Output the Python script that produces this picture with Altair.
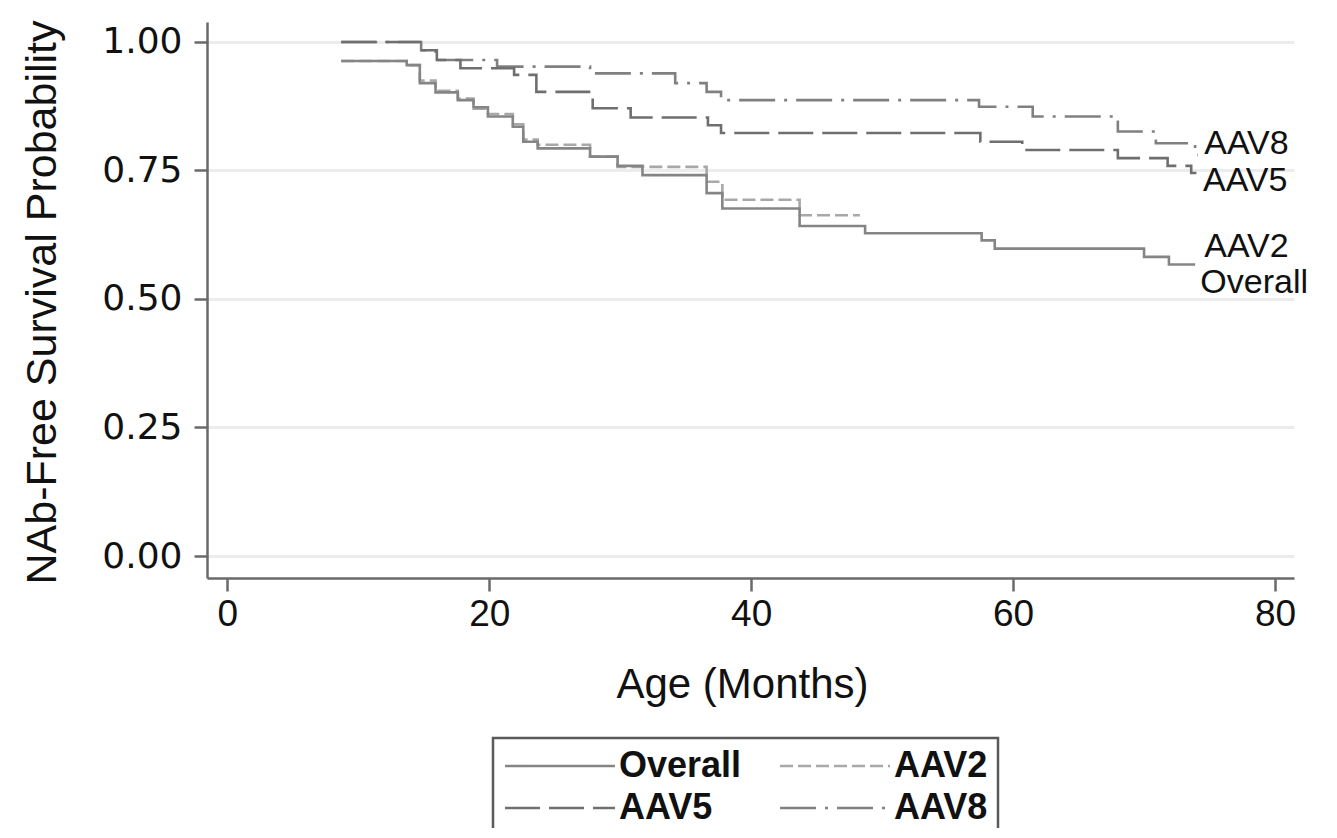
import altair as alt
import pandas as pd

groups = ["Overall", "AAV2", "AAV5", "AAV8"]
# legend fills column by column: this order gives rows "Overall AAV2" / "AAV5 AAV8"
legend_order = ["Overall", "AAV5", "AAV2", "AAV8"]

overall_age = [8.7, 13.7, 14.7, 15.9, 17.6, 18.8, 19.9, 21.8, 22.6, 23.7, 27.7, 29.8, 31.7,
               36.6, 37.8, 43.7, 48.7, 57.6, 58.6, 70.0, 71.9, 73.9]
overall_surv = [0.963, 0.955, 0.920, 0.902, 0.887, 0.873, 0.855, 0.835, 0.806, 0.793, 0.777,
                0.759, 0.741, 0.706, 0.676, 0.642, 0.628, 0.614, 0.598, 0.582, 0.567, 0.567]

aav2_age = [8.7, 13.7, 14.7, 15.9, 17.6, 18.8, 19.9, 21.8, 22.6, 23.7, 27.7, 29.8, 36.6,
            37.8, 43.7, 48.3]
aav2_surv = [0.963, 0.955, 0.925, 0.905, 0.890, 0.870, 0.860, 0.840, 0.810, 0.800, 0.777,
             0.757, 0.728, 0.693, 0.663, 0.663]

aav5_age = [8.7, 14.7, 16.0, 17.8, 21.9, 23.6, 27.9, 30.8, 36.7, 37.7, 57.5, 60.7, 68.0,
            71.8, 73.6, 74.0]
aav5_surv = [1.000, 0.984, 0.965, 0.949, 0.936, 0.903, 0.871, 0.853, 0.838, 0.823, 0.806,
             0.790, 0.774, 0.759, 0.745, 0.745]

aav8_age = [8.7, 14.8, 15.9, 20.6, 27.7, 34.2, 36.6, 37.7, 57.4, 61.5, 68.0, 70.9, 73.9, 74.1]
aav8_surv = [1.000, 0.984, 0.965, 0.952, 0.939, 0.920, 0.903, 0.887, 0.874, 0.855, 0.826,
             0.803, 0.780, 0.780]

label_text = ["AAV8", "AAV5", "AAV2", "Overall"]
label_age = [74.6, 74.5, 74.6, 74.3]
label_surv = [0.802, 0.730, 0.601, 0.531]

x_ticks = [0, 20, 40, 60, 80]
y_ticks = [0.0, 0.25, 0.5, 0.75, 1.0]

rows = []
for g, ages, survs in [("Overall", overall_age, overall_surv), ("AAV2", aav2_age, aav2_surv),
                       ("AAV5", aav5_age, aav5_surv), ("AAV8", aav8_age, aav8_surv)]:
    for a, s in zip(ages, survs):
        rows.append({"group": g, "age": a, "surv": s})
df = pd.DataFrame(rows)
label_df = pd.DataFrame({"label": label_text, "age": label_age, "surv": label_surv})

AXIS_GRAY = "#6a6a6a"

x_scale = alt.Scale(domain=[-1.55, 81.45], nice=False, zero=False)
y_scale = alt.Scale(domain=[-0.0428, 1.0389], nice=False, zero=False)

x_axis = alt.Axis(values=x_ticks, title="Age (Months)", grid=False,
                  domainColor=AXIS_GRAY, domainWidth=2.5, tickColor=AXIS_GRAY, tickWidth=2.5,
                  tickSize=13, labelFont="Liberation Sans", labelFontSize=37, labelColor="#111",
                  labelPadding=5, labelFlush=False, labelOverlap=False,
                  titleFont="Liberation Sans", titleFontSize=42, titleFontWeight="normal",
                  titleColor="#111", titleX=535, titleY=119, titleBaseline="alphabetic",
                  titleAlign="center")
y_axis = alt.Axis(values=y_ticks, format=".2f", title="NAb-Free Survival Probability",
                  grid=True, gridColor="#ececec", gridWidth=3,
                  domainColor=AXIS_GRAY, domainWidth=2.5, tickColor=AXIS_GRAY, tickWidth=2.5,
                  tickSize=13, labelFont="DejaVu Sans", labelFontSize=36, labelColor="#111",
                  labelPadding=12, labelOverlap=False,
                  titleFont="Liberation Sans", titleFontSize=43, titleFontWeight="normal",
                  titleColor="#111", titleX=-152, titleY=280, titleBaseline="alphabetic",
                  titleAlign="center", titleAngle=270)

color_scale = alt.Scale(domain=legend_order,
                        range=["#858585", "#6f6f6f", "#a8a8a8", "#808080"])
dash_scale = alt.Scale(domain=legend_order,
                       range=[[1, 0], [35, 9], [13, 5], [36, 9, 3, 9]])

legend = alt.Legend(title=None, orient="none", legendX=286, legendY=716, columns=2,
                    symbolType="M-5,0H5", symbolSize=484, symbolStrokeWidth=2.5,
                    symbolOffset=39, labelOffset=41, labelFont="Liberation Sans",
                    labelFontSize=36, labelFontWeight="bold", labelColor="#111",
                    columnPadding=33, rowPadding=6, padding=10,
                    strokeColor="#5a5a5a", fillColor="white")

x_enc = alt.X("age:Q", scale=x_scale, axis=x_axis)
y_enc = alt.Y("surv:Q", scale=y_scale, axis=y_axis)
color_enc = alt.Color("group:N", scale=color_scale, legend=legend, sort=legend_order)
dash_enc = alt.StrokeDash("group:N", scale=dash_scale, legend=legend, sort=legend_order)


def line_layer(g):
    return (alt.Chart(df)
            .transform_filter(alt.datum.group == g)
            .mark_line(interpolate="step-after", strokeWidth=2.6)
            .encode(x=x_enc, y=y_enc, color=color_enc, strokeDash=dash_enc))


text_layer = alt.Chart(label_df).mark_text(
    align="left", baseline="middle", font="Liberation Sans", fontSize=34, color="#111"
).encode(x=x_enc, y=y_enc, text="label:N")

chart = alt.layer(
    line_layer("AAV2"), line_layer("AAV8"), line_layer("AAV5"), line_layer("Overall"),
    text_layer
).properties(
    width=1087, height=556,
    padding={"left": 199, "top": 14, "right": 35, "bottom": 250},
    autosize=alt.AutoSizeParams(type="none"),
    background="white",
).configure_view(strokeWidth=0).configure_legend(strokeWidth=2.5)

chart.save("out.html", embed_options={"renderer": "svg", "actions": False})
